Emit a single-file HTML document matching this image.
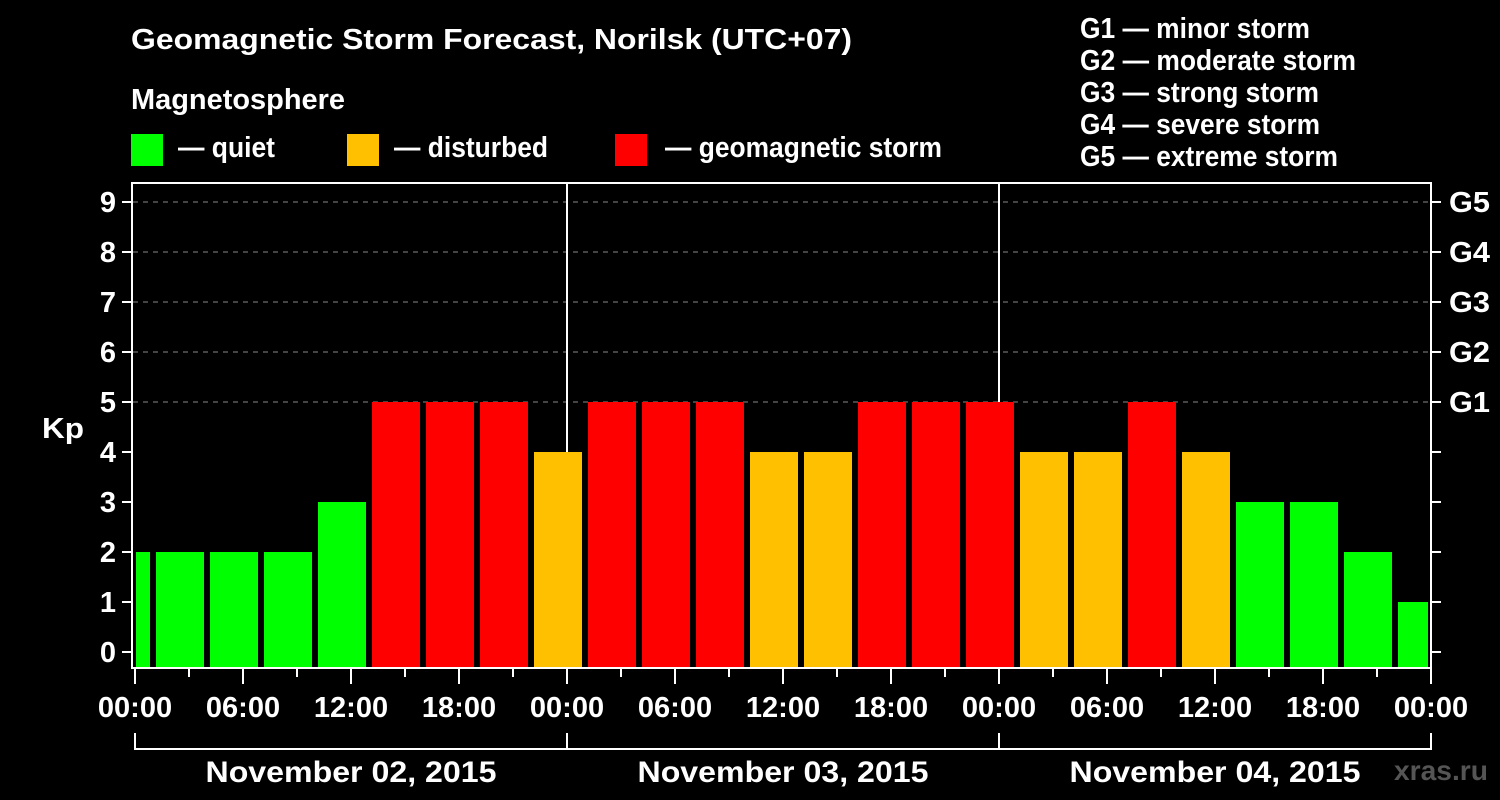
<!DOCTYPE html>
<html><head><meta charset="utf-8"><style>
html,body{margin:0;padding:0;background:#000;}
svg{display:block;font-family:"Liberation Sans",Arial,sans-serif;font-weight:bold;}
</style></head><body>
<svg width="1500" height="800" viewBox="0 0 1500 800" xmlns="http://www.w3.org/2000/svg">
<rect width="1500" height="800" fill="#000"/>
<g fill="#fff" font-size="29">
<text x="131" y="49" textLength="721" lengthAdjust="spacingAndGlyphs">Geomagnetic Storm Forecast, Norilsk (UTC+07)</text>
<text x="131" y="109" textLength="214" lengthAdjust="spacingAndGlyphs">Magnetosphere</text>
<text x="178" y="157" textLength="97" lengthAdjust="spacingAndGlyphs">— quiet</text>
<text x="394" y="157" textLength="154" lengthAdjust="spacingAndGlyphs">— disturbed</text>
<text x="665" y="157" textLength="277" lengthAdjust="spacingAndGlyphs">— geomagnetic storm</text>
<text x="1080" y="38" textLength="230" lengthAdjust="spacingAndGlyphs">G1 — minor storm</text>
<text x="1080" y="70" textLength="276" lengthAdjust="spacingAndGlyphs">G2 — moderate storm</text>
<text x="1080" y="102" textLength="239" lengthAdjust="spacingAndGlyphs">G3 — strong storm</text>
<text x="1080" y="134" textLength="240" lengthAdjust="spacingAndGlyphs">G4 — severe storm</text>
<text x="1080" y="166" textLength="258" lengthAdjust="spacingAndGlyphs">G5 — extreme storm</text>
</g>
<rect x="131" y="134" width="32" height="32" fill="#00ff00"/>
<rect x="347" y="134" width="32" height="32" fill="#ffc000"/>
<rect x="615" y="134" width="32" height="32" fill="#ff0000"/>
<g stroke="#888" stroke-width="1" stroke-dasharray="5,5">
<line x1="133" y1="202" x2="1431" y2="202"/>
<line x1="133" y1="252" x2="1431" y2="252"/>
<line x1="133" y1="302" x2="1431" y2="302"/>
<line x1="133" y1="352" x2="1431" y2="352"/>
<line x1="133" y1="402" x2="1431" y2="402"/>
</g>
<g stroke="#fff" stroke-width="2">
<line x1="567" y1="182" x2="567" y2="668"/>
<line x1="999" y1="182" x2="999" y2="668"/>
</g>
<g>
<rect x="136" y="552" width="14" height="116" fill="#00ff00"/>
<rect x="156" y="552" width="48" height="116" fill="#00ff00"/>
<rect x="210" y="552" width="48" height="116" fill="#00ff00"/>
<rect x="264" y="552" width="48" height="116" fill="#00ff00"/>
<rect x="318" y="502" width="48" height="166" fill="#00ff00"/>
<rect x="372" y="402" width="48" height="266" fill="#ff0000"/>
<rect x="426" y="402" width="48" height="266" fill="#ff0000"/>
<rect x="480" y="402" width="48" height="266" fill="#ff0000"/>
<rect x="534" y="452" width="48" height="216" fill="#ffc000"/>
<rect x="588" y="402" width="48" height="266" fill="#ff0000"/>
<rect x="642" y="402" width="48" height="266" fill="#ff0000"/>
<rect x="696" y="402" width="48" height="266" fill="#ff0000"/>
<rect x="750" y="452" width="48" height="216" fill="#ffc000"/>
<rect x="804" y="452" width="48" height="216" fill="#ffc000"/>
<rect x="858" y="402" width="48" height="266" fill="#ff0000"/>
<rect x="912" y="402" width="48" height="266" fill="#ff0000"/>
<rect x="966" y="402" width="48" height="266" fill="#ff0000"/>
<rect x="1020" y="452" width="48" height="216" fill="#ffc000"/>
<rect x="1074" y="452" width="48" height="216" fill="#ffc000"/>
<rect x="1128" y="402" width="48" height="266" fill="#ff0000"/>
<rect x="1182" y="452" width="48" height="216" fill="#ffc000"/>
<rect x="1236" y="502" width="48" height="166" fill="#00ff00"/>
<rect x="1290" y="502" width="48" height="166" fill="#00ff00"/>
<rect x="1344" y="552" width="48" height="116" fill="#00ff00"/>
<rect x="1398" y="602" width="30" height="66" fill="#00ff00"/>
</g>
<rect x="132" y="183" width="1299" height="485" fill="none" stroke="#fff" stroke-width="2"/>
<g stroke="#fff" stroke-width="2">
<line x1="122" y1="202" x2="132" y2="202"/><line x1="1431" y1="202" x2="1441" y2="202"/>
<line x1="122" y1="252" x2="132" y2="252"/><line x1="1431" y1="252" x2="1441" y2="252"/>
<line x1="122" y1="302" x2="132" y2="302"/><line x1="1431" y1="302" x2="1441" y2="302"/>
<line x1="122" y1="352" x2="132" y2="352"/><line x1="1431" y1="352" x2="1441" y2="352"/>
<line x1="122" y1="402" x2="132" y2="402"/><line x1="1431" y1="402" x2="1441" y2="402"/>
<line x1="122" y1="452" x2="132" y2="452"/><line x1="1431" y1="452" x2="1441" y2="452"/>
<line x1="122" y1="502" x2="132" y2="502"/><line x1="1431" y1="502" x2="1441" y2="502"/>
<line x1="122" y1="552" x2="132" y2="552"/><line x1="1431" y1="552" x2="1441" y2="552"/>
<line x1="122" y1="602" x2="132" y2="602"/><line x1="1431" y1="602" x2="1441" y2="602"/>
<line x1="122" y1="652" x2="132" y2="652"/><line x1="1431" y1="652" x2="1441" y2="652"/>
<line x1="135" y1="668" x2="135" y2="684"/><line x1="189" y1="668" x2="189" y2="677"/>
<line x1="243" y1="668" x2="243" y2="684"/><line x1="297" y1="668" x2="297" y2="677"/>
<line x1="351" y1="668" x2="351" y2="684"/><line x1="405" y1="668" x2="405" y2="677"/>
<line x1="459" y1="668" x2="459" y2="684"/><line x1="513" y1="668" x2="513" y2="677"/>
<line x1="567" y1="668" x2="567" y2="684"/><line x1="621" y1="668" x2="621" y2="677"/>
<line x1="675" y1="668" x2="675" y2="684"/><line x1="729" y1="668" x2="729" y2="677"/>
<line x1="783" y1="668" x2="783" y2="684"/><line x1="837" y1="668" x2="837" y2="677"/>
<line x1="891" y1="668" x2="891" y2="684"/><line x1="945" y1="668" x2="945" y2="677"/>
<line x1="999" y1="668" x2="999" y2="684"/><line x1="1053" y1="668" x2="1053" y2="677"/>
<line x1="1107" y1="668" x2="1107" y2="684"/><line x1="1161" y1="668" x2="1161" y2="677"/>
<line x1="1215" y1="668" x2="1215" y2="684"/><line x1="1269" y1="668" x2="1269" y2="677"/>
<line x1="1323" y1="668" x2="1323" y2="684"/><line x1="1377" y1="668" x2="1377" y2="677"/>
<line x1="1431" y1="668" x2="1431" y2="684"/>
</g>
<g fill="#fff" font-size="29" text-anchor="end">
<text x="116" y="212">9</text><text x="116" y="262">8</text><text x="116" y="312">7</text>
<text x="116" y="362">6</text><text x="116" y="412">5</text><text x="116" y="462">4</text>
<text x="116" y="512">3</text><text x="116" y="562">2</text><text x="116" y="612">1</text>
<text x="116" y="662">0</text>
</g>
<text x="42" y="438" fill="#fff" font-size="29" textLength="42" lengthAdjust="spacingAndGlyphs">Kp</text>
<g fill="#fff" font-size="29">
<text x="1449" y="212" textLength="41" lengthAdjust="spacingAndGlyphs">G5</text><text x="1449" y="262" textLength="41" lengthAdjust="spacingAndGlyphs">G4</text><text x="1449" y="312" textLength="41" lengthAdjust="spacingAndGlyphs">G3</text><text x="1449" y="362" textLength="41" lengthAdjust="spacingAndGlyphs">G2</text><text x="1449" y="412" textLength="41" lengthAdjust="spacingAndGlyphs">G1</text>
</g>
<g fill="#fff" font-size="29" text-anchor="middle">
<text x="135" y="717">00:00</text><text x="243" y="717">06:00</text><text x="351" y="717">12:00</text><text x="459" y="717">18:00</text>
<text x="567" y="717">00:00</text><text x="675" y="717">06:00</text><text x="783" y="717">12:00</text><text x="891" y="717">18:00</text>
<text x="999" y="717">00:00</text><text x="1107" y="717">06:00</text><text x="1215" y="717">12:00</text><text x="1323" y="717">18:00</text>
<text x="1431" y="717">00:00</text>
</g>
<g stroke="#fff" stroke-width="2" fill="none">
<polyline points="135,733 135,749 1431,749 1431,733"/>
<line x1="567" y1="733" x2="567" y2="749"/>
<line x1="999" y1="733" x2="999" y2="749"/>
</g>
<g fill="#fff" font-size="30" text-anchor="middle">
<text x="351" y="782" textLength="291" lengthAdjust="spacingAndGlyphs">November 02, 2015</text>
<text x="783" y="782" textLength="291" lengthAdjust="spacingAndGlyphs">November 03, 2015</text>
<text x="1215" y="782" textLength="291" lengthAdjust="spacingAndGlyphs">November 04, 2015</text>
</g>
<text x="1394" y="780" fill="#555" font-size="28" textLength="94" lengthAdjust="spacingAndGlyphs">xras.ru</text>
</svg>
</body></html>
